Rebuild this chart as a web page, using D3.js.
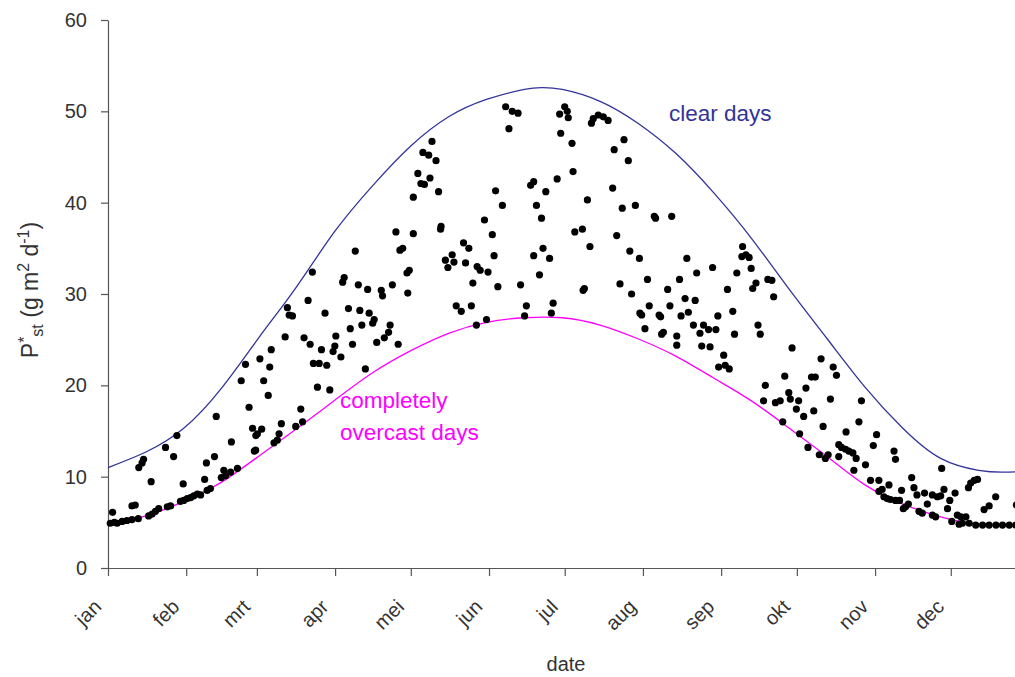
<!DOCTYPE html>
<html>
<head>
<meta charset="utf-8">
<script src="https://cdn.jsdelivr.net/npm/d3@7"></script>
<style>
body { margin: 0; background: #fff; }
svg { font-family: "Liberation Sans", Arial, sans-serif; }
.axis path, .axis line { stroke: #555; stroke-width: 1.2; }
.axis text { fill: #333; font-size: 20px; }
</style>
</head>
<body>
<svg width="1015" height="677"></svg>
<script>
// month starts (day of year) and their labels
var monthDays = [0, 31, 59, 90, 120, 151, 181, 212, 243, 273, 304, 334];
var monthNames = ["jan", "feb", "mrt", "apr", "mei", "jun", "jul", "aug", "sep", "okt", "nov", "dec"];
var yTicks = [0, 10, 20, 30, 40, 50, 60];

// envelope curves
var clearDay = [0, 15, 30, 45, 60, 75, 90, 105, 120, 135, 150, 165, 172, 180, 195, 210, 225, 240, 255, 270, 285, 300, 315, 330, 345, 355, 365];
var clearP = [11.0, 12.7, 15.3, 19.7, 25.3, 30.9, 36.9, 41.9, 46.2, 49.4, 51.3, 52.4, 52.6, 52.4, 51.1, 48.7, 45.4, 41.1, 36.1, 30.5, 25.1, 19.8, 15.3, 12.0, 10.7, 10.5, 10.6];
var overcastDay = [0, 15, 30, 45, 60, 75, 90, 105, 120, 135, 150, 165, 180, 195, 210, 225, 240, 255, 270, 285, 300, 315, 330, 345, 365];
var overcastP = [4.8, 5.7, 7.3, 9.4, 12.3, 15.3, 18.4, 21.4, 23.8, 25.7, 26.9, 27.4, 27.4, 26.6, 25.1, 23.2, 20.8, 18.3, 15.3, 12.2, 9.1, 7.0, 5.6, 4.8, 4.6];

// daily values [day, P*st]
var observed = [
  [0.9,4.9],[2.5,5.0],[3.6,4.9],[5.6,5.1],[7.5,5.2],[9.5,5.3],[12,5.4],[1.8,6.1],[9.5,6.8],[10.8,6.9],
  [16.1,5.7],[17.5,5.9],[18.8,6.2],[20.1,6.5],[23.5,6.7],[24.8,6.8],
  [28.7,7.3],[30,7.4],[31.4,7.6],[32.7,7.7],[34,7.9],[35.4,8.1],[36.7,8.0],[39.3,8.5],[40.6,8.7],
  [44.9,9.9],[45.9,10.7],[46.6,10.1],[48.6,10.5],[51.3,10.9],
  [17.1,9.45],[29.8,9.2],[38.3,9.7],[39,11.5],[12.2,11.0],[13.5,11.5],[14.1,11.9],
  [26,12.2],[42.2,12.2],[58,12.8],[22.8,13.2],[48.9,13.8],[27.3,14.5],[58.6,14.5],[57.3,15.3],
  [42.9,16.6],[55.9,17.6],[52.8,20.5],[54.5,22.3],
  [114.1,36.8],[121,36.6],[98,34.7],[115.7,34.8],[116.8,35.0],[81,32.4],[118.5,32.3],[119.4,32.6],
  [93.6,31.8],[93,31.3],[99.2,31.0],[102.9,30.5],[108.3,30.4],[108.8,29.8],[112.7,31.0],[118.8,30.1],
  [79.3,29.3],[71.1,28.5],[71.8,27.7],[73.1,27.6],[86,27.9],[95.3,28.4],[99.8,28.2],[103.5,27.9],
  [105.5,27.2],[104.9,26.8],[111.8,26.6],[111.2,25.8],[96,26.2],[100.6,26.6],[90.3,25.4],[109.5,25.2],
  [106.5,24.7],[70.2,25.3],[77.7,25.2],[80.1,24.5],[84.6,23.9],[89.9,24.3],[89.2,23.7],[96.9,24.5],
  [115,24.5],[92.3,23.1],[81.4,22.4],[83.7,22.4],[86.7,22.2],[102,21.8],[60.2,22.9],[64.7,23.9],
  [64.1,22.0],[61.7,20.5],[63.5,18.9],[83,19.8],[87.9,19.5],[76.4,17.4],[68.7,15.8],[60.9,15.2],
  [59.2,14.7],[74.4,15.5],[77.1,16.0],[67.8,14.7],[67.1,14.0],[65.8,13.7],[58.5,12.9],
  [157.6,50.5],[160.2,50.0],[162.5,49.8],[158.9,48.1],[181,50.5],[182,50.0],[179,49.7],[182.4,49.3],
  [179.4,47.6],[183.9,46.5],[128.4,46.7],[124.8,45.5],[127.1,45.2],[130,44.6],[122.8,43.2],[124,42.1],
  [125.4,42.0],[127.6,42.7],[131,41.2],[121,40.6],[184.3,43.4],[167.5,41.9],[168.7,42.3],[178,42.6],
  [153.6,41.3],[173.5,41.2],[156.3,39.7],[169.8,39.7],[171.8,38.3],[149.2,38.1],[185,36.8],[132,37.4],
  [131.8,37.1],[152.3,36.5],[140.9,35.6],[143,35.0],[172.4,35.0],[175,33.9],[168.7,34.2],[153,34.2],
  [136.4,34.3],[133.7,33.7],[137.1,33.5],[134.7,32.9],[141.7,33.4],[146.3,33.0],[147.5,32.6],[150.6,32.4],
  [171,32.1],[144.6,31.2],[154.5,30.8],[163.5,31.0],[138,28.7],[140,28.1],[144,28.7],[165.8,28.7],
  [165.1,27.6],[176.4,29.0],[175.7,27.9],[150,27.2],[146,26.6],
  [192.3,49.2],[194.3,49.6],[196.3,49.4],[198.2,49.0],[191.6,48.7],[204.5,46.9],[200.6,45.8],[206.2,44.6],
  [200,41.6],[190,40.3],[209,39.7],[203.8,39.4],[216.5,38.5],[217,38.3],[223.4,38.5],[188,37.1],
  [201.6,36.4],[191,35.2],[206.8,34.7],[210.6,33.9],[229.4,33.9],[239.6,32.9],[233.3,32.3],[213.8,31.6],
  [226.5,31.6],[188.3,30.4],[188.8,30.6],[202.9,31.1],[207.5,30.0],[221.8,30.5],[245.5,30.5],[228.7,29.5],
  [232.7,29.3],[214.5,28.7],[222.7,28.7],[210.8,27.9],[211.5,27.7],[218.4,27.7],[219,27.5],[227.1,27.6],
  [230,28.0],[241.7,27.6],[232,26.6],[236,26.6],[238,26.1],[240.9,26.1],[212.8,26.2],[219.4,25.6],
  [220.1,25.8],[234.6,25.7],[225.4,25.4],[225.4,24.4],[235.3,24.3],[238.6,24.2],[244,23.3],[242,22.0],
  [251.5,35.2],[251.2,34.1],[252.8,34.3],[254.1,34.0],[254.9,32.8],[249.2,32.3],[256.8,31.2],[255.5,30.6],
  [261.5,31.6],[263.1,31.5],[263.8,29.7],[247.6,28.1],[257.6,26.6],[258.5,25.6],[248.3,25.6],[271.1,24.1],
  [244.6,22.2],[246.2,21.8],[282.6,22.9],[287.4,22.0],[288.7,21.1],[268.2,21.0],[278.8,20.9],[280.3,20.9],
  [260.5,20.0],[276.6,19.7],[269.8,19.2],[259.8,18.3],[264.5,18.1],[266.4,18.3],[270.4,18.5],[273.7,18.3],
  [286.3,18.5],[298.6,18.3],[272.8,17.4],[279.7,17.2],[275.7,16.6],[267.4,16.0],[297.6,16.0],[283.4,15.5],
  [304.6,14.6],[292.5,14.9],[274.1,14.7],[303.3,13.4],[289.6,13.5],[290.7,13.2],[292.3,13.0],[293.6,12.8],
  [295.2,12.6],[296.5,12.0],[277.4,13.2],[281.9,12.4],[284.3,12.0],[285.4,12.4],[289.6,12.2],[300.2,11.3],
  [295.6,10.7],[302.2,9.6],[305.5,9.6],
  [311.5,12.8],[312.1,11.9],[330.4,10.9],[343.3,9.6],[344.6,9.7],[341.9,9.3],[341,8.8],[318.5,9.9],
  [309.5,9.1],[319.4,8.8],[314.5,8.5],[331.3,8.6],[335.7,8.2],[305.5,8.4],[306.8,8.6],[320.6,8.0],
  [323.6,8.2],[326.7,8.0],[328.7,7.8],[330,7.9],[351.8,7.8],[349.2,6.8],[347.2,6.4],[307.5,7.8],
  [308.8,7.6],[310.1,7.5],[312.1,7.4],[313.7,7.4],[333.6,7.4],[324.7,7.0],[317.2,7.0],[316.1,6.7],
  [315.2,6.5],[332.7,6.5],[321.4,6.2],[322.7,6.0],[326.7,5.8],[328,5.6],[336.6,5.8],[338,5.6],
  [340,5.6],[334.4,5.1],[338.6,4.9],[341.3,4.9],[337.3,4.8],[343.9,4.7],[346.6,4.7],[349.2,4.7],
  [351.9,4.7],[354.5,4.7],[357.2,4.7],[359.8,4.7],[360,6.9]
];

var svg = d3.select("svg");

var x = d3.scaleLinear().domain([0, 365]).range([108, 1029]);
var y = d3.scaleLinear().domain([0, 60]).range([568, 20]);

// y axis
svg.append("g")
    .attr("class", "axis")
    .attr("transform", "translate(108,0)")
    .call(d3.axisLeft(y).tickValues(yTicks).tickSize(7).tickPadding(14).tickSizeOuter(0));

// x axis
var xAxis = svg.append("g")
    .attr("class", "axis")
    .attr("transform", "translate(0,568)")
    .call(d3.axisBottom(x).tickValues(monthDays).tickSize(8).tickSizeOuter(0)
      .tickFormat(function(d, i) { return monthNames[i]; }));

xAxis.selectAll("text")
    .attr("text-anchor", "end")
    .attr("dy", null)
    .attr("y", null)
    .attr("transform", "translate(-6,40) rotate(-45)");

// curves
var line = d3.line()
    .x(function(d) { return x(d[0]); })
    .y(function(d) { return y(d[1]); })
    .curve(d3.curveNatural);

svg.append("path")
    .datum(clearDay.map(function(d, i) { return [d, clearP[i]]; }))
    .attr("fill", "none")
    .attr("stroke", "#333399")
    .attr("stroke-width", 1.3)
    .attr("d", line);

svg.append("path")
    .datum(overcastDay.map(function(d, i) { return [d, overcastP[i]]; }))
    .attr("fill", "none")
    .attr("stroke", "#ff00ff")
    .attr("stroke-width", 1.3)
    .attr("d", line);

// points
svg.append("g").selectAll("circle")
    .data(observed)
  .enter().append("circle")
    .attr("cx", function(d) { return x(d[0]); })
    .attr("cy", function(d) { return y(d[1]); })
    .attr("r", 3.6)
    .attr("fill", "#000");

// annotations
svg.append("text")
    .attr("x", 669).attr("y", 121)
    .attr("fill", "#333399")
    .style("font-size", "22.5px")
    .text("clear days");

svg.append("text")
    .attr("x", 340).attr("y", 408)
    .attr("fill", "#ff00ff")
    .style("font-size", "22.5px")
    .text("completely");

svg.append("text")
    .attr("x", 340).attr("y", 440)
    .attr("fill", "#ff00ff")
    .style("font-size", "22.5px")
    .text("overcast days");

// axis titles
svg.append("text")
    .attr("x", 566).attr("y", 671)
    .attr("text-anchor", "middle")
    .attr("fill", "#333")
    .style("font-size", "20px")
    .text("date");

var yl = svg.append("text")
    .attr("transform", "translate(38,290) rotate(-90)")
    .attr("text-anchor", "middle")
    .attr("fill", "#333")
    .style("font-size", "23px");
yl.append("tspan").text("P");
yl.append("tspan").attr("dy", -8).style("font-size", "16px").text("*");
yl.append("tspan").attr("dy", 13).style("font-size", "16px").text("st");
yl.append("tspan").attr("dy", -5).text(" (g m");
yl.append("tspan").attr("dy", -9).style("font-size", "16px").text("2");
yl.append("tspan").attr("dy", 9).text(" d");
yl.append("tspan").attr("dy", -9).style("font-size", "16px").text("-1");
yl.append("tspan").attr("dy", 9).text(")");
</script>
</body>
</html>
